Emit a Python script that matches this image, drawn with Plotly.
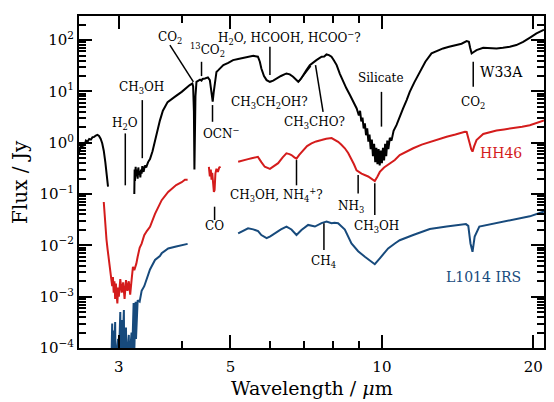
import numpy as np
import plotly.graph_objects as go

# W33A (black), gaps marked with None
w33a_wl = [2.50, 2.505, 2.51, 2.52, 2.53, 2.54, 2.55, 2.56, 2.57, 2.58, 2.60, 2.62, 2.64, 2.66, 2.68,
           2.70, 2.72, 2.74, 2.76, 2.78, 2.80, 2.82, 2.84, 2.855,
           None,
           3.22, 3.225, 3.23, 3.24, 3.25, 3.26, 3.27, 3.28, 3.29, 3.30, 3.31, 3.32, 3.33, 3.34, 3.36,
           3.38, 3.40, 3.43, 3.46, 3.50, 3.53, 3.57, 3.62, 3.67, 3.75, 3.88, 4.00, 4.15, 4.20, 4.215,
           4.23, 4.24, 4.25, 4.26, 4.28, 4.35, 4.38, 4.40, 4.45, 4.51, 4.55, 4.57, 4.59, 4.61, 4.63,
           4.66, 4.69, 4.73, 4.84, 4.95, 5.06, 5.18, 5.30, 5.42, 5.55, 5.67, 5.72, 5.76, 5.83, 5.90,
           5.99, 6.08, 6.17, 6.30, 6.46, 6.56, 6.66, 6.75, 6.82, 6.90, 6.97, 7.08, 7.19, 7.30, 7.41,
           7.50, 7.59, 7.68, 7.76, 7.85, 7.94, 8.03, 8.13, 8.25, 8.38, 8.50, 8.64, 8.77, 8.91, 9.00,
           9.05, 9.10, 9.15, 9.20, 9.25, 9.30, 9.35, 9.40, 9.45, 9.50, 9.55, 9.60, 9.65, 9.70, 9.75,
           9.80, 9.85, 9.90, 9.95, 10.00, 10.05, 10.10, 10.15, 10.20, 10.25, 10.30, 10.37, 10.45,
           10.55, 10.69, 10.85, 11.02, 11.20, 11.36, 11.60, 11.90, 12.20, 12.55, 12.90, 13.23, 13.60,
           14.07, 14.40, 14.74, 14.89, 14.98, 15.08, 15.20, 15.42, 15.90, 16.40, 16.90, 17.40, 17.96,
           18.50, 19.09, 19.70, 20.29, 20.92, 21.0]
w33a_flux = [0.62, 0.80, 0.70, 0.88, 0.76, 0.95, 0.85, 1.02, 0.96, 1.10, 1.05, 1.18, 1.15, 1.28, 1.30,
             1.38, 1.42, 1.36, 1.20, 0.98, 0.70, 0.42, 0.22, 0.14,
             None,
             0.10, 0.30, 0.18, 0.34, 0.22, 0.30, 0.20, 0.33, 0.24, 0.28, 0.21, 0.30, 0.25, 0.35, 0.27,
             0.36, 0.33, 0.42, 0.48, 0.68, 1.0, 1.6, 2.7, 4.2, 6.2, 7.9, 9.8, 13.3, 14.3, 12.5,
             4.0, 0.30, 1.5, 8.0, 15.4, 17.0, 16.2, 17.5, 17.9, 18.8, 16.6, 11.0, 7.0, 6.3, 9.5,
             17.0, 24.0, 26.0, 32.6, 36.0, 40.8, 43.0, 45.2, 47.0, 49.4, 47.4, 38.0, 28.0, 20.0, 16.6,
             15.4, 16.2, 17.9, 20.0, 22.4, 21.5, 19.3, 16.5, 15.4, 17.5, 20.8, 26.0, 32.6, 37.0, 40.8,
             44.0, 47.4, 48.0, 52.6, 51.0, 47.4, 40.0, 32.6, 22.0, 15.4, 11.5, 8.5, 6.3, 4.66, 3.4,
             4.2, 2.6, 3.1, 1.9, 2.4, 1.4, 1.9, 1.05, 1.45, 0.75, 1.15, 0.55, 0.95, 0.42, 0.80,
             0.38, 0.75, 0.36, 0.70, 0.40, 0.80, 0.45, 0.95, 0.55, 1.10, 0.75, 1.25, 1.1,
             1.7, 2.2, 3.3, 4.66, 6.8, 9.8, 15.0, 24.0, 38.0, 55.0, 62.0, 68.9, 74.0,
             79.9, 85.0, 95.6, 92.6, 70.0, 55.0, 58.0, 63.8, 70.8, 69.0, 68.9, 71.0, 74.0,
             80.0, 92.6, 112.0, 135.0, 156.0, 160.0]

# HH46 (red)
hh46_wl = [2.80, 2.81, 2.82, 2.835, 2.85, 2.865, 2.878, 2.89, 2.90, 2.91, 2.92, 2.93, 2.94, 2.95, 2.96,
           2.97, 2.98, 2.99, 3.00, 3.02, 3.04, 3.06, 3.08, 3.10, 3.12, 3.14, 3.16, 3.18, 3.20, 3.22,
           3.25, 3.27, 3.30, 3.33, 3.37, 3.41, 3.46, 3.54, 3.60, 3.65, 3.76, 3.90, 4.00, 4.06, 4.11,
           None,
           4.53, 4.55, 4.57, 4.585, 4.60, 4.62, 4.635, 4.65, 4.667, 4.69, 4.72, 4.75, 4.78,
           None,
           5.18, 5.30, 5.42, 5.51, 5.60, 5.67, 5.76, 5.85, 5.99, 6.10, 6.22, 6.35, 6.46, 6.55, 6.61,
           6.70, 6.765, 6.85, 6.97, 7.10, 7.245, 7.40, 7.586, 7.75, 7.943, 8.05, 8.185, 8.30, 8.44,
           8.57, 8.70, 8.80, 8.906, 9.11, 9.39, 9.55, 9.68, 9.80, 9.906, 10.10, 10.29, 10.61, 10.85,
           11.20, 11.54, 12.00, 12.45, 13.00, 13.45, 14.00, 14.62, 14.74, 14.85, 14.95, 15.05, 15.14,
           15.25, 15.42, 15.90, 16.40, 16.90, 17.50, 18.23, 19.00, 19.68, 20.30, 20.92, 21.0]
hh46_flux = [0.070, 0.040, 0.023, 0.013, 0.0083, 0.005, 0.0034, 0.0025, 0.0021, 0.0016, 0.0024, 0.0012,
             0.0020, 0.0009, 0.0018, 0.0011, 0.00074, 0.0015, 0.0010, 0.0022, 0.0012, 0.0019, 0.0009,
             0.0021, 0.0013, 0.0020, 0.0011, 0.0021, 0.0038, 0.0033, 0.0044, 0.0060, 0.0090, 0.0108,
             0.0158, 0.019, 0.023, 0.041, 0.058, 0.076, 0.11, 0.15, 0.17, 0.19, 0.19,
             None,
             0.34, 0.22, 0.30, 0.19, 0.26, 0.15, 0.11, 0.12, 0.25, 0.31, 0.27, 0.33, 0.34,
             None,
             0.426, 0.46, 0.48, 0.50, 0.52, 0.53, 0.42, 0.34, 0.31, 0.35, 0.40, 0.52, 0.62, 0.60, 0.575,
             0.52, 0.49, 0.58, 0.72, 0.86, 0.97, 1.06, 1.13, 1.20, 1.23, 1.15, 1.04, 0.92, 0.78,
             0.63, 0.49, 0.38, 0.29, 0.25, 0.22, 0.20, 0.18, 0.22, 0.27, 0.33, 0.37, 0.46, 0.575,
             0.68, 0.78, 0.92, 1.04, 1.18, 1.31, 1.45, 1.64, 1.62, 1.30, 0.97, 0.75, 0.67,
             0.85, 1.13, 1.48, 1.62, 1.73, 1.82, 1.90, 2.05, 2.20, 2.45, 2.70, 2.72]

# L1014 IRS (blue)
l1014_wl = [2.90, 2.91, 2.915, 2.93, 2.935, 2.95, 2.955, 2.99, 3.00, 3.02, 3.025, 3.04, 3.045, 3.07,
            3.075, 3.10, 3.105, 3.14, 3.145, 3.18, 3.185, 3.21, 3.215, 3.24, 3.245, 3.27, 3.30, 3.33,
            3.37, 3.40, 3.46, 3.54, 3.62, 3.65, 3.76, 3.90, 4.00, 4.11,
            None,
            5.18, 5.30, 5.42, 5.55, 5.674, 5.76, 5.90, 6.00, 6.12, 6.30, 6.462, 6.55, 6.61, 6.765,
            6.85, 6.92, 7.135, 7.36, 7.586, 7.762, 7.943, 8.05, 8.185, 8.44, 8.70, 8.97, 9.25, 9.53,
            9.68, 9.906, 10.29, 10.61, 10.85, 11.54, 12.45, 13.45, 14.20, 14.69, 14.85, 15.00, 15.14,
            15.29, 15.62, 16.90, 18.23, 19.68, 20.92, 21.0]
l1014_flux = [5e-5, 3.0e-4, 5e-5, 2.2e-4, 5e-5, 3.2e-4, 5e-5, 1.5e-4, 5e-5, 5.0e-4, 5e-5, 3.5e-4, 5e-5,
              5.5e-4, 5e-5, 2.5e-4, 5e-5, 1.8e-4, 5e-5, 2.0e-4, 5e-5, 7.5e-4, 5e-5, 8.0e-4, 1.5e-4,
              8.5e-4, 8.0e-4, 1.3e-3, 1.6e-3, 2.1e-3, 3.4e-3, 5.2e-3, 6.2e-3, 7.0e-3, 8.7e-3, 9.5e-3,
              1.0e-2, 1.07e-2,
              None,
              0.0171, 0.0195, 0.0215, 0.0205, 0.0190, 0.0159, 0.0138, 0.0150, 0.0171, 0.0205, 0.0233,
              0.0215, 0.0204, 0.0159, 0.0185, 0.0199, 0.025, 0.0233, 0.0272, 0.029, 0.027, 0.0275,
              0.027, 0.0204, 0.0109, 0.0077, 0.0060, 0.0048, 0.0043, 0.0056, 0.0087, 0.0109, 0.0126,
              0.0159, 0.0208, 0.0233, 0.025, 0.026, 0.024, 0.0109, 0.0075, 0.0148, 0.0233, 0.027,
              0.031, 0.0368, 0.0452, 0.046]

# feature labels: text, label position (wavelength, flux), marker line end points
labels = ["H<sub>2</sub>O", "CH<sub>3</sub>OH", "CO<sub>2</sub>", "<sup>13</sup>CO<sub>2</sub>",
          "H<sub>2</sub>O, HCOOH, HCOO<sup>−</sup>?", "CH<sub>3</sub>CH<sub>2</sub>OH?",
          "CH<sub>3</sub>CHO?", "Silicate", "CO<sub>2</sub>", "OCN<sup>−</sup>",
          "CH<sub>3</sub>OH, NH<sub>4</sub><sup>+</sup>?", "NH<sub>3</sub>", "CH<sub>3</sub>OH",
          "CO", "CH<sub>4</sub>"]
label_wl = [3.09, 3.33, 3.79, 4.51, 6.55, 5.99, 7.36, 9.98, 15.19, 4.80, 6.17, 8.70, 9.76, 4.65, 7.64]
label_flux = [2.3, 11.5, 108, 64, 108, 5.85, 2.38, 17.9, 5.85, 1.52, 0.0955, 0.0565, 0.0231, 0.0238, 0.0048]
line_wl = [(3.09, 3.09), (3.34, 3.34), (3.79, 4.22), (4.38, 4.38), (5.99, 5.99), (6.82, 7.22),
           (7.64, 7.38), (9.98, 9.98), (15.19, 15.19), (4.606, 4.606), (6.765, 6.765), (8.97, 8.97),
           (9.68, 9.68), (4.65, 4.65), (7.67, 7.67)]
line_flux = [(1.52, 0.148), (6.77, 0.50), (79.9, 15.4), (37.8, 19.9), (74, 20.8), (15.2, 31.2),
             (4.0, 32.6), (9.8, 2.06), (37.8, 12.3), (5.42, 2.56), (0.46, 0.148), (0.236, 0.103),
             (0.162, 0.039), (0.0567, 0.0312), (0.0269, 0.0081)]

sources = ["W33A", "HH46", "L1014 IRS"]
source_wl = [17.3, 17.27, 15.9]
source_flux = [23.8, 0.643, 0.00245]
colors = ["black", "#d41c1c", "#174a7c"]

font = "DejaVu Serif"

fig = go.Figure()
for wl, fl, c in [(w33a_wl, w33a_flux, colors[0]), (hh46_wl, hh46_flux, colors[1]),
                  (l1014_wl, l1014_flux, colors[2])]:
    fig.add_trace(go.Scatter(x=wl, y=fl, mode="lines", line=dict(color=c, width=2),
                             connectgaps=False, showlegend=False))

for (x0, x1), (y0, y1) in zip(line_wl, line_flux):
    fig.add_trace(go.Scatter(x=[x0, x1], y=[y0, y1], mode="lines",
                             line=dict(color="black", width=1.5), showlegend=False))

annotations = []
for t, x, y in zip(labels, label_wl, label_flux):
    annotations.append(dict(text=t, x=np.log10(x), y=np.log10(y), xref="x", yref="y",
                            showarrow=False, font=dict(family=font, size=12, color="black")))
for t, x, y, c in zip(sources, source_wl, source_flux, colors):
    annotations.append(dict(text=t, x=np.log10(x), y=np.log10(y), xref="x", yref="y",
                            showarrow=False, font=dict(family=font, size=14, color=c)))

# axis titles placed by hand so the margins stay fixed
annotations.append(dict(text="Wavelength / <i>μ</i>m", xref="paper", yref="paper", x=0.5, y=0,
                        yanchor="middle", yshift=-40, showarrow=False,
                        font=dict(family=font, size=19, color="black")))
annotations.append(dict(text="Flux / Jy", xref="paper", yref="paper", x=0, y=0.5,
                        xanchor="center", xshift=-59, textangle=-90, showarrow=False,
                        font=dict(family=font, size=20, color="black")))

y_major = [1e-4, 1e-3, 1e-2, 1e-1, 1, 10, 100]
y_text = ["10<sup>−4</sup>", "10<sup>−3</sup>", "10<sup>−2</sup>", "10<sup>−1</sup>",
          "10<sup>0</sup>", "10<sup>1</sup>", "10<sup>2</sup>"]
y_minor = [k * 10.0 ** d for d in range(-4, 3) for k in range(2, 10)]
x_major = [3, 5, 10, 20]
x_minor = [4, 6, 7, 8, 9]

axis_common = dict(type="log", showline=True, linewidth=2, linecolor="black", mirror="allticks",
                   ticks="inside", ticklen=13, tickwidth=1.5, tickcolor="black", showgrid=False,
                   zeroline=False, automargin=False,
                   tickfont=dict(family=font, size=15, color="black"))

# the page body keeps an 8px margin, so the figure is made 8px smaller on each side
fig.update_layout(
    width=546, height=394,
    margin=dict(l=71, r=10, t=8, b=54),
    plot_bgcolor="white", paper_bgcolor="white",
    annotations=annotations,
    xaxis=dict(axis_common, range=[np.log10(2.5), np.log10(21)], tickmode="array",
               tickvals=x_major, ticktext=[str(v) for v in x_major], ticklabelstandoff=4,
               minor=dict(tickmode="array", tickvals=x_minor, ticks="inside", ticklen=7,
                          tickwidth=1.5, tickcolor="black", showgrid=False)),
    yaxis=dict(axis_common, range=[-4, np.log10(295)], tickmode="array",
               tickvals=y_major, ticktext=y_text,
               minor=dict(tickmode="array", tickvals=y_minor, ticks="inside", ticklen=7,
                          tickwidth=1.5, tickcolor="black", showgrid=False)),
)

fig.write_html("out.html")
